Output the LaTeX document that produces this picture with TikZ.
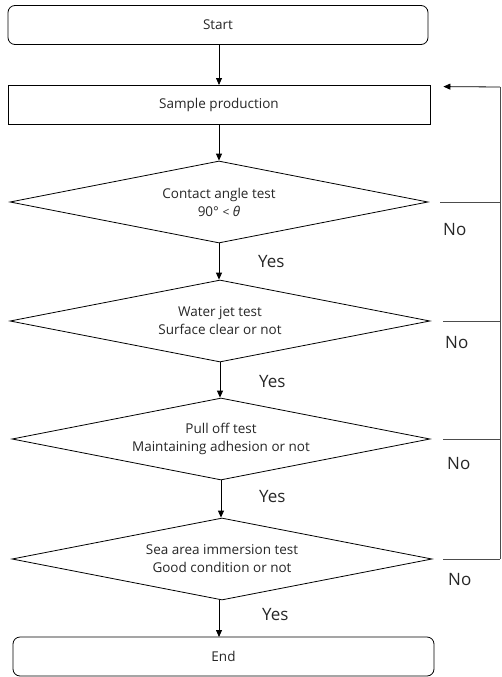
\documentclass[tikz,border=0pt]{standalone}
\usepackage{fontspec}
\setmainfont{Open Sans}
\usetikzlibrary{shapes.geometric,arrows.meta}
\begin{document}
\begin{tikzpicture}[x=1pt,y=-1pt,
  every node/.style={font=\fontsize{13.5}{18}\selectfont, text=black!85},
  term/.style={draw, rounded corners=7pt, minimum height=39pt, inner sep=0pt, line width=0.8pt},
  procbox/.style={draw, minimum height=39pt, inner sep=0pt, line width=0.8pt},
  decision/.style={draw, diamond, shape aspect=5.1, inner sep=0pt, align=center, minimum height=82pt, line width=0.8pt},
  arr/.style={-{Triangle[length=7pt,width=6pt]}, line width=0.8pt},
  noline/.style={line width=0.8pt, draw=black!70},
  lab/.style={font=\fontsize{17}{20}\selectfont, anchor=base west, inner sep=0pt, text=black!85}
]
\useasboundingbox (0,0) rectangle (501,677);

\node[term, minimum width=420pt] (start) at (218,25) {Start};
\node[procbox, minimum width=422pt] (sp) at (219,104.5) {Sample production};
\node[decision, minimum width=418pt] (d1) at (219,202) {Contact angle test\\90° {\fontsize{12}{18}\selectfont<} \textit{θ}};
\node[decision, minimum width=420pt] (d2) at (220,321) {Water jet test\\Surface clear or not};
\node[decision, minimum width=418pt] (d3) at (221,439) {Pull off test\\Maintaining adhesion or not};
\node[decision, minimum width=420pt] (d4) at (222,559) {Sea area immersion test\\Good condition or not};
\node[term, minimum width=421pt] (end) at (223.5,656.5) {End};

\draw[arr] (start.south -| 219,0) -- (219,85);
\draw[arr] (sp.south) -- (sp.south |- d1.north);
\draw[arr] (d1.south) -- (d1.south |- d2.north);
\draw[arr] (d2.south) -- (d2.south |- d3.north);
\draw[arr] (d3.south) -- (d3.south |- d4.north);
\draw[arr] (d4.south -| 219,0) -- (219,637);

\coordinate (r0) at (500,87);
\coordinate (r1) at (500,202);
\coordinate (r2) at (500,321);
\coordinate (r3) at (500,439);
\coordinate (r4) at (500,559);

\draw[noline] ([xshift=12pt]d1.east) -- (r1);
\draw[noline] ([xshift=13pt]d2.east) -- (r2);
\draw[noline] ([xshift=13pt]d3.east) -- (r3);
\draw[noline] ([xshift=11pt]d4.east) -- (r4);
\draw[noline] (r4) -- (r0);
\draw[arr] (r0) -- ([shift={(13pt,-2pt)}]sp.north east);

\node[lab] (n1) at (443,235) {No};
\node[lab] (n2) at (445,348) {No};
\node[lab] (n3) at (447,469) {No};
\node[lab] (n4) at (448,585) {No};
\node[lab] (y1) at (258,267) {Yes};
\node[lab] (y2) at (259,387) {Yes};
\node[lab] (y3) at (259,502) {Yes};
\node[lab] (y4) at (262,620) {Yes};
\end{tikzpicture}
\end{document}
